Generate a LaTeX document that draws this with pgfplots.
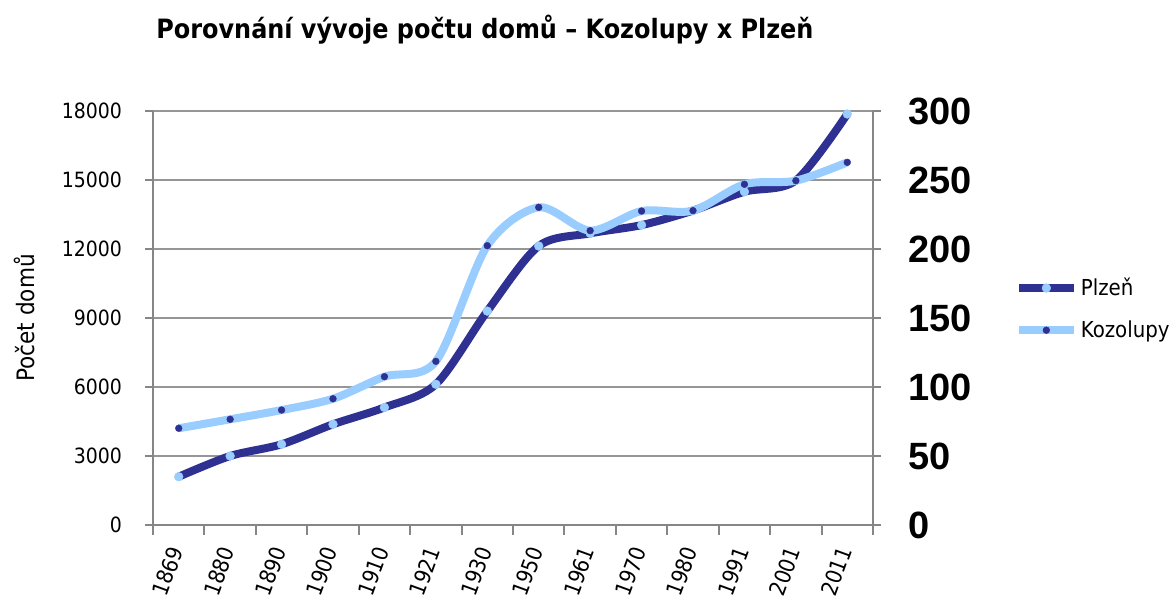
\documentclass[border=0pt]{standalone}
\usepackage{pgfplots}
\pgfplotsset{compat=1.18}
\usepackage{pgfplotstable}
\usepackage{fontspec}
\setmainfont{DejaVu Sans Condensed}
\newfontfamily\arialfont{Liberation Sans}
\definecolor{darkb}{RGB}{46,49,146}
\definecolor{lightb}{RGB}{153,204,255}
\definecolor{axgray}{RGB}{134,134,134}
\definecolor{gridgray}{RGB}{150,150,150}

\pgfplotstableread{
x pl ko
0 2100 70.1
1 3000 76.6
2 3510 83.3
3 4380 91.5
4 5110 107.5
5 6120 118.6
6 9300 202.4
7 12130 230.2
8 12680 213.3
9 13040 227.5
10 13670 227.8
11 14490 246.9
12 14980 249.5
13 17870 262.8
}\data

\begin{document}
\begin{tikzpicture}
\useasboundingbox (-76.5pt,-38pt) rectangle (509pt,262.5pt);
\begin{axis}[
  at={(0,0)}, anchor=south west, scale only axis,
  width=360pt, height=207pt,
  xmin=-0.5, xmax=13.5, ymin=0, ymax=18000,
  scaled y ticks=false,
  axis x line*=bottom, axis y line*=left,
  axis line style={axgray, line width=1pt},
  tick align=outside,
  xtick={0,...,13},
  xticklabels={1869,1880,1890,1900,1910,1921,1930,1950,1961,1970,1980,1991,2001,2011},
  major x tick style={draw=none},
  minor xtick={-0.5,0.5,...,13.5},
  minor x tick style={axgray, line width=1pt},
  minor tick length=5pt,
  major tick length=4pt,
  ytick={0,3000,...,18000},
  yticklabels={0,3000,6000,9000,12000,15000,18000},
  y tick style={axgray, line width=1pt},
  ymajorgrids, grid style={gridgray, line width=0.8pt},
  yticklabel style={font=\fontsize{10.5}{12}\selectfont, xshift=-8pt},
  xticklabel style={font=\fontsize{11}{13}\selectfont, yshift=-4pt, rotate=70, anchor=east},
  ylabel={Počet domů},
  every axis y label/.style={at={(axis description cs:-0.178,0.5)}, rotate=90, anchor=center, font=\fontsize{12}{14}\selectfont},
  clip=false,
]
\addplot[draw=darkb, line width=4pt, smooth, mark=*, mark size=2.2pt, mark options={solid, line width=0.2pt, fill=lightb, draw=lightb}] table[x=x, y=pl] {\data};
\end{axis}
\begin{axis}[
  at={(0,0)}, anchor=south west, scale only axis,
  width=360pt, height=207pt,
  xmin=-0.5, xmax=13.5, ymin=0, ymax=300,
  axis x line=none, axis y line*=right,
  axis line style={axgray, line width=1pt},
  tick align=outside, major tick length=4pt,
  ytick={0,50,...,300},
  y tick style={axgray, line width=1pt},
  /pgf/number format/assume math mode=true,
  yticklabel style={font=\arialfont\bfseries\fontsize{19}{21}\selectfont, xshift=10pt},
  clip=false,
  legend style={at={(axis description cs:1.197,0.522)}, anchor=west, draw=none, fill=none,
    font=\fontsize{11}{13}\selectfont, row sep=8pt, inner sep=0pt, outer sep=0pt,
    nodes={inner sep=1.5pt}},
  legend cell align=left,
  legend image code/.code={\draw[mark repeat=2,mark phase=2,#1] plot coordinates {(0pt,0pt)(13.75pt,0pt)(27.5pt,0pt)};},
]
\addlegendimage{draw=darkb, line width=4pt, mark=*, mark size=2.2pt, mark options={solid, line width=0.2pt, fill=lightb, draw=lightb}}
\addlegendentry{Plzeň}
\addplot[draw=lightb, line width=4pt, smooth, mark=*, mark size=1.7pt, mark options={solid, line width=0.2pt, fill=darkb, draw=darkb}] table[x=x, y=ko] {\data};
\addlegendentry{Kozolupy}
\end{axis}
\node[font=\bfseries\fontsize{13.3}{16}\selectfont] at (166pt,247.5pt) {Porovnání vývoje počtu domů – Kozolupy x Plzeň};
\end{tikzpicture}
\end{document}
